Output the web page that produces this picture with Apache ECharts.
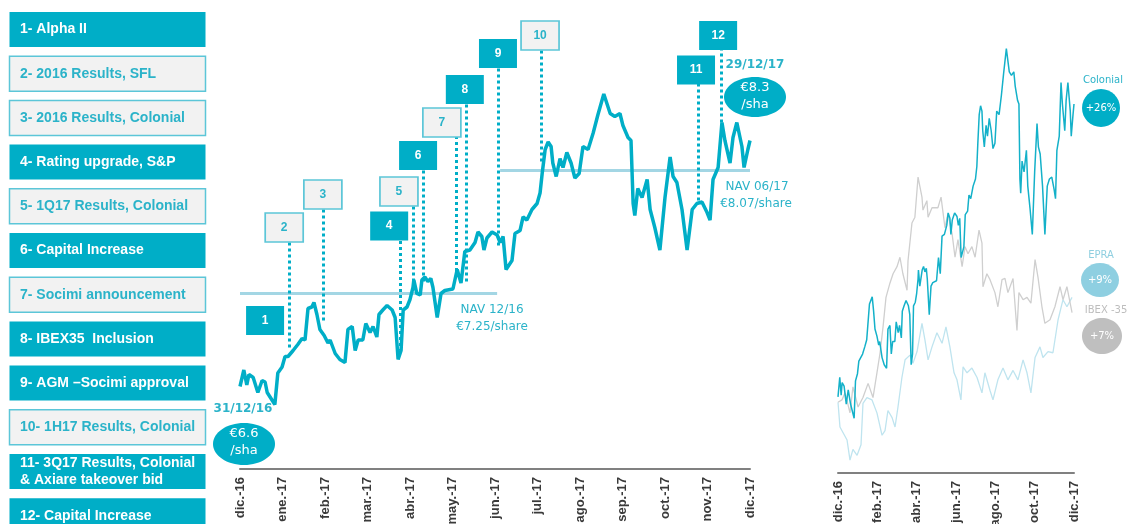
<!DOCTYPE html>
<html>
<head>
<meta charset="utf-8">
<title>Colonial 2017</title>
<script src="https://cdn.jsdelivr.net/npm/echarts@6/dist/echarts.min.js"></script>
<style>
  html, body { margin: 0; padding: 0; background: #fff; }
  #chart { width: 1127px; height: 524px; }
</style>
</head>
<body>
<div id="chart"></div>
<script>
// --- data ---------------------------------------------------------------

var eventNames = [
  '1- Alpha II',
  '2- 2016 Results, SFL',
  '3- 2016 Results, Colonial',
  '4- Rating upgrade, S&P',
  '5- 1Q17 Results, Colonial',
  '6- Capital Increase',
  '7- Socimi announcement',
  '8- IBEX35  Inclusion',
  '9- AGM \u2013Socimi approval',
  '10- 1H17 Results, Colonial',
  '11- 3Q17 Results, Colonial\n& Axiare takeover bid',
  '12- Capital Increase'
];

var leftMonthLabels = ['dic.-16', 'ene.-17', 'feb.-17', 'mar.-17', 'abr.-17', 'may.-17', 'jun.-17',
  'jul.-17', 'ago.-17', 'sep.-17', 'oct.-17', 'nov.-17', 'dic.-17'];
var rightMonthLabels = ['dic.-16', 'feb.-17', 'abr.-17', 'jun.-17', 'ago.-17', 'oct.-17', 'dic.-17'];

var navDec16 = 7.25;
var navJun17 = 8.07;
var startPrice = 6.6;   // 31/12/16
var endPrice = 8.3;     // 29/12/17
var perfLabels = ['+26%', '+9%', '+7%'];   // Colonial, EPRA, IBEX-35

// Colonial share price, [month since 31/12/16, EUR]
var colonialPrice = [
  [0.00, 6.63], [0.09, 6.74], [0.16, 6.64], [0.21, 6.71], [0.31, 6.69], [0.42, 6.59], [0.52, 6.67],
  [0.59, 6.66], [0.64, 6.59], [0.82, 6.51], [0.89, 6.72], [0.99, 6.76], [1.06, 6.83], [1.13, 6.83],
  [1.25, 6.87], [1.36, 6.91], [1.46, 6.95], [1.53, 6.94], [1.60, 7.15], [1.69, 7.16], [1.74, 7.19],
  [1.81, 7.11], [1.88, 7.01], [1.98, 6.97], [2.07, 6.92], [2.12, 6.94], [2.24, 6.85], [2.35, 6.81],
  [2.47, 6.79], [2.54, 7.01], [2.64, 7.03], [2.71, 6.87], [2.78, 6.94], [2.89, 6.94], [2.96, 7.05],
  [3.06, 6.99], [3.13, 7.03], [3.22, 6.96], [3.27, 7.11], [3.36, 7.14], [3.46, 7.17], [3.58, 7.14],
  [3.65, 7.09], [3.72, 6.81], [3.79, 6.87], [3.84, 7.14], [3.93, 7.16], [4.00, 7.21], [4.07, 7.29],
  [4.09, 7.34], [4.16, 7.25], [4.24, 7.24], [4.28, 7.34], [4.35, 7.36], [4.42, 7.33], [4.49, 7.35],
  [4.54, 7.29], [4.64, 7.09], [4.73, 7.25], [4.82, 7.27], [5.01, 7.28], [5.11, 7.41], [5.20, 7.32],
  [5.29, 7.53], [5.41, 7.54], [5.53, 7.59], [5.60, 7.66], [5.69, 7.63], [5.74, 7.54], [5.81, 7.62],
  [5.93, 7.66], [6.05, 7.64], [6.12, 7.59], [6.19, 7.63], [6.26, 7.41], [6.40, 7.47], [6.47, 7.65],
  [6.59, 7.67], [6.66, 7.76], [6.75, 7.74], [6.87, 7.81], [6.99, 7.85], [7.06, 7.92], [7.11, 8.05],
  [7.18, 8.21], [7.25, 8.26], [7.32, 8.23], [7.36, 8.12], [7.44, 8.03], [7.53, 8.15], [7.60, 8.09],
  [7.69, 8.19], [7.79, 8.12], [7.88, 8.02], [7.98, 8.05], [8.07, 8.23], [8.19, 8.21], [8.31, 8.32],
  [8.42, 8.44], [8.56, 8.58], [8.71, 8.45], [8.82, 8.43], [8.94, 8.45], [9.01, 8.37], [9.13, 8.29],
  [9.20, 8.27], [9.25, 7.85], [9.29, 7.77], [9.36, 7.95], [9.46, 7.89], [9.58, 8.01], [9.65, 7.81],
  [9.76, 7.69], [9.88, 7.54], [10.00, 7.89], [10.12, 8.16], [10.19, 8.03], [10.28, 7.99], [10.40, 7.81],
  [10.52, 7.54], [10.64, 7.81], [10.75, 7.85], [10.87, 7.86], [10.99, 7.79], [11.06, 7.74], [11.13, 8.01],
  [11.25, 8.09], [11.34, 8.39], [11.41, 8.27], [11.53, 8.12], [11.60, 8.29], [11.69, 8.39], [11.81, 8.23],
  [11.86, 8.09], [11.95, 8.21], [12.00, 8.27]
];

// IBEX-35, base 100 at 31/12/16
var ibexIndex = [
  [0.00, 100.0], [0.20, 100.2], [0.36, 100.8], [0.61, 99.1], [0.76, 101.3], [1.02, 99.6], [1.27, 100.4],
  [1.53, 101.6], [1.78, 100.4], [1.98, 102.5], [2.14, 104.2], [2.29, 106.4], [2.44, 108.9], [2.64, 110.1],
  [2.80, 110.9], [3.00, 111.5], [3.15, 112.3], [3.30, 110.9], [3.51, 109.5], [3.56, 112.0], [3.76, 115.2],
  [3.91, 115.7], [4.07, 119.1], [4.27, 117.4], [4.32, 116.3], [4.52, 117.1], [4.58, 115.7], [4.78, 116.5],
  [4.93, 116.5], [5.08, 116.5], [5.24, 117.4], [5.44, 114.8], [5.59, 116.0], [5.80, 114.3], [5.95, 112.3],
  [6.10, 113.8], [6.31, 111.5], [6.46, 113.2], [6.61, 112.6], [6.81, 113.2], [6.97, 112.3], [7.17, 114.6],
  [7.32, 113.5], [7.37, 109.8], [7.57, 110.9], [7.73, 110.4], [7.98, 109.3], [8.13, 108.1], [8.34, 110.4],
  [8.49, 110.5], [8.64, 109.3], [8.90, 110.5], [9.10, 106.1], [9.20, 109.3], [9.41, 108.7], [9.61, 108.9],
  [9.81, 108.4], [10.02, 112.1], [10.17, 110.6], [10.37, 108.1], [10.52, 106.7], [10.78, 107.0],
  [11.03, 108.1], [11.29, 109.8], [11.44, 108.7], [11.64, 109.8], [11.90, 107.6]
];

// EPRA, base 100 at 31/12/16
var epraIndex = [
  [0.00, 100.0], [0.10, 97.9], [0.46, 96.8], [0.61, 95.1], [0.76, 96.0], [0.97, 95.5], [1.17, 96.4],
  [1.27, 99.9], [1.47, 100.4], [1.73, 100.2], [1.98, 99.1], [2.24, 97.2], [2.39, 97.6], [2.54, 99.3],
  [2.75, 98.7], [2.90, 97.9], [3.05, 99.6], [3.25, 102.1], [3.41, 103.6], [3.66, 104.0], [3.81, 103.3],
  [4.02, 104.3], [4.27, 106.7], [4.42, 105.3], [4.58, 103.6], [4.78, 104.7], [5.03, 105.9], [5.29, 105.0],
  [5.49, 106.4], [5.69, 104.7], [5.90, 102.5], [6.05, 101.9], [6.25, 100.2], [6.36, 103.0], [6.56, 102.5],
  [6.81, 102.9], [7.07, 102.1], [7.32, 100.8], [7.47, 102.5], [7.73, 101.0], [7.88, 100.2], [8.13, 101.9],
  [8.39, 102.9], [8.64, 101.9], [8.90, 102.7], [9.15, 101.9], [9.41, 103.6], [9.61, 102.5], [9.81, 100.8],
  [10.02, 103.8], [10.27, 104.7], [10.42, 103.8], [10.68, 104.3], [10.93, 104.2], [11.19, 107.0],
  [11.44, 108.7], [11.64, 108.1], [11.90, 108.9]
];

// --- layout of the annotations (data units of the left chart) ------------

var filledEvents = [1, 4, 6, 8, 9, 11, 12];
// box centre [month, EUR]
var eventBoxes = [
  [0.59, 7.07], [1.04, 7.69], [1.95, 7.91], [3.51, 7.70], [3.74, 7.93], [4.19, 8.17],
  [4.75, 8.39], [5.29, 8.61], [6.07, 8.85], [7.06, 8.97], [10.73, 8.74], [11.25, 8.97]
];
// dotted drop lines [month, top, bottom]; event 1 has none
var eventLines = [
  null, [1.15, 7.59, 6.87], [1.95, 7.81, 7.05], [3.76, 7.60, 6.87], [4.07, 7.83, 7.31], [4.31, 8.07, 7.32],
  [5.08, 8.30, 7.34], [5.32, 8.51, 7.32], [6.07, 8.75, 7.57], [7.09, 8.87, 8.13], [10.78, 8.65, 7.87],
  [11.32, 8.89, 8.37]
];

var TEAL = '#00AEC7';
var TEAL_TEXT = '#2BB3C9';
var LIGHT_FILL = '#F2F2F2';
var LIGHT_BORDER = '#5CC6D8';
var NAV_COLOR = '#A3D6E4';
var AXIS_FONT = '"Liberation Sans", Arial, sans-serif';
var NOTE_FONT = '"DejaVu Sans", Verdana, sans-serif';

// --- chart --------------------------------------------------------------

var myChart = echarts.init(document.getElementById('chart'));

function isFilled(n) { return filledEvents.indexOf(n) >= 0; }

// numbered boxes on the chart
var boxData = eventBoxes.map(function (c, i) {
  var f = isFilled(i + 1);
  return {
    coord: c,
    value: i + 1,
    itemStyle: f ? { color: TEAL } : { color: LIGHT_FILL, borderColor: LIGHT_BORDER, borderWidth: 1.5 },
    label: { show: true, formatter: String(i + 1), color: f ? '#fff' : TEAL_TEXT, fontWeight: 'bold', fontSize: 12, fontFamily: AXIS_FONT }
  };
});

var lineData = [
  [{ coord: [0, navDec16], lineStyle: { color: NAV_COLOR, width: 3, type: 'solid' } }, { coord: [6.05, navDec16] }],
  [{ coord: [6.12, navJun17], lineStyle: { color: NAV_COLOR, width: 3, type: 'solid' } }, { coord: [12, navJun17] }]
];
eventLines.forEach(function (l) {
  if (!l) return;
  lineData.push([{ coord: [l[0], l[1]], lineStyle: { color: TEAL, width: 3, type: [3, 3] } }, { coord: [l[0], l[2]] }]);
});

// left list of events
var graphics = [];
eventNames.forEach(function (name, i) {
  var top = 12 + i * 44.2;
  var f = isFilled(i + 1);
  graphics.push({
    type: 'rect', shape: { x: 9.5, y: top, width: 196, height: 35 },
    style: { fill: f ? TEAL : LIGHT_FILL, stroke: f ? TEAL : LIGHT_BORDER, lineWidth: f ? 0 : 1.5 }
  });
  graphics.push({
    type: 'text',
    style: { text: name, x: 20, y: top + 17.5, fill: f ? '#fff' : TEAL_TEXT, font: 'bold 14px ' + AXIS_FONT,
      textVerticalAlign: 'middle', verticalAlign: 'middle', lineHeight: 17 }
  });
});

function note(text, x, y, color, size, weight) {
  return {
    type: 'text', z: 10,
    style: { text: text, x: x, y: y, fill: color, font: (weight || 'normal') + ' ' + size + 'px ' + NOTE_FONT,
      textAlign: 'center', align: 'center', textVerticalAlign: 'middle', verticalAlign: 'middle' }
  };
}
function bubble(cx, cy, rx, ry, color) {
  return { type: 'ellipse', z: 9, shape: { cx: cx, cy: cy, rx: rx, ry: ry }, style: { fill: color } };
}

graphics.push(
  note('NAV 12/16', 492, 310, TEAL_TEXT, 12),
  note('\u20ac' + navDec16.toFixed(2) + '/share', 492, 327, TEAL_TEXT, 12),
  note('NAV 06/17', 757, 187, TEAL_TEXT, 12),
  note('\u20ac' + navJun17.toFixed(2) + '/share', 756, 204, TEAL_TEXT, 12),
  note('31/12/16', 243, 409, TEAL_TEXT, 12, 'bold'),
  bubble(244, 444, 31, 21, TEAL),
  note('\u20ac' + startPrice, 244, 434, '#fff', 13),
  note('/sha', 244, 451, '#fff', 13),
  note('29/12/17', 755, 65, TEAL_TEXT, 12, 'bold'),
  bubble(755, 97, 31, 20, TEAL),
  note('\u20ac' + endPrice, 755, 88, '#fff', 13),
  note('/sha', 755, 105, '#fff', 13),
  note('Colonial', 1103, 80, TEAL_TEXT, 10),
  bubble(1101, 108, 19, 19, TEAL),
  note(perfLabels[0], 1101, 108, '#fff', 10),
  note('EPRA', 1101, 255, '#8FCFE0', 10),
  bubble(1100, 280, 19, 17, '#8ECFE1'),
  note(perfLabels[1], 1100, 280, '#fff', 10),
  note('IBEX -35', 1106, 310, '#BDBDBD', 10),
  bubble(1102, 336, 20, 18, '#BFBFBF'),
  note(perfLabels[2], 1102, 336, '#fff', 10)
);

function xAxisFor(gridIndex, interval, labels) {
  return {
    type: 'value', gridIndex: gridIndex, min: 0, max: 12, interval: interval,
    axisLine: { lineStyle: { color: '#808080', width: 2 } },
    axisTick: { show: false },
    splitLine: { show: false },
    axisLabel: {
      rotate: 90, margin: 8, color: '#3A3A3A', fontWeight: 'bold', fontSize: 13, fontFamily: AXIS_FONT,
      formatter: function (v) { return labels[Math.round(v / interval)] || ''; }
    }
  };
}

var option = {
  animation: false,
  backgroundColor: '#fff',
  grid: [
    // labels run off the bottom edge as in the original, so no outer-bounds fitting
    { left: 240, right: 377, top: 19, bottom: 55, containLabel: false, outerBoundsMode: 'none' },
    { left: 838, right: 53, top: 25, bottom: 51, containLabel: false, outerBoundsMode: 'none' }
  ],
  xAxis: [xAxisFor(0, 1, leftMonthLabels), xAxisFor(1, 2, rightMonthLabels)],
  yAxis: [
    { type: 'value', gridIndex: 0, min: 6.08, max: 9.08, show: false },
    { type: 'value', gridIndex: 1, min: 94, max: 132, show: false }
  ],
  graphic: graphics,
  series: [
    {
      name: 'Colonial', type: 'line', xAxisIndex: 0, yAxisIndex: 0,
      data: colonialPrice, symbol: 'none', z: 3,
      lineStyle: { color: TEAL, width: 3.5 },
      markLine: { silent: true, symbol: ['none', 'none'], label: { show: false }, data: lineData, z: 2 },
      markPoint: { silent: true, symbol: 'rect', symbolSize: [38, 29], data: boxData, z: 4 }
    },
    {
      name: 'EPRA', type: 'line', xAxisIndex: 1, yAxisIndex: 1,
      data: epraIndex, symbol: 'none', z: 2,
      lineStyle: { color: '#BFE4EF', width: 1.3 }
    },
    {
      name: 'IBEX-35', type: 'line', xAxisIndex: 1, yAxisIndex: 1,
      data: ibexIndex, symbol: 'none', z: 2,
      lineStyle: { color: '#CFCFCF', width: 1.3 }
    },
    {
      // same share price, rebased to the 31/12/16 close
      name: 'Colonial idx', type: 'line', xAxisIndex: 1, yAxisIndex: 1,
      data: colonialPrice.map(function (p) { return [p[0], p[1] / startPrice * 100]; }),
      symbol: 'none', z: 3,
      lineStyle: { color: '#14B1C9', width: 1.5 }
    }
  ]
};

myChart.setOption(option);
</script>
</body>
</html>
